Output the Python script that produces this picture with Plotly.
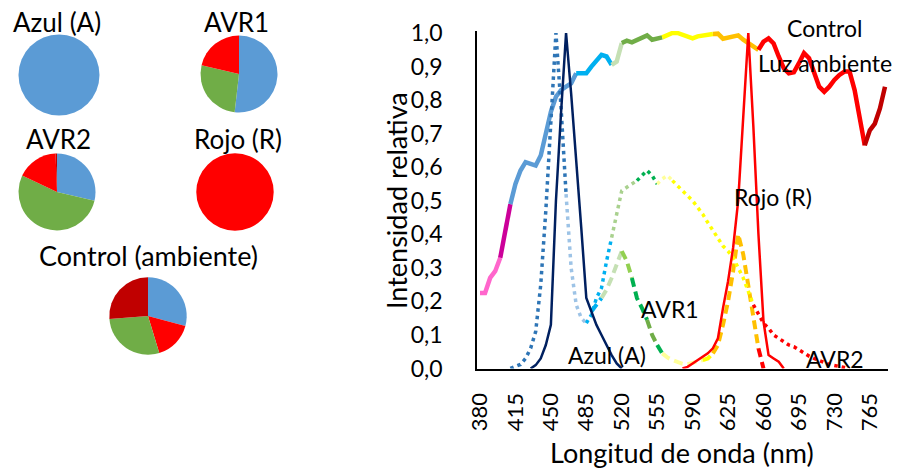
import plotly.graph_objects as go

# ---------------- data ----------------
control_wl = [380, 385, 390, 395, 400, 405, 410, 415, 420, 425, 430, 435, 440, 445, 450, 455, 460, 465, 470, 475,
              480, 485, 490, 495, 500, 505, 510, 515, 520, 525, 530, 535, 540, 545, 550, 555, 560, 565, 570, 575,
              580, 585, 590, 595, 600, 605, 610, 615, 620, 625, 630, 635, 640, 645, 650, 655, 660, 665, 670, 675,
              680, 685, 690, 695, 700, 705, 710, 715, 720, 725, 730, 735, 740, 745, 750, 755, 760, 765, 770, 775, 780]
control_val = [0.225, 0.225, 0.27, 0.29, 0.33, 0.41, 0.49, 0.55, 0.59, 0.615, 0.61, 0.605, 0.635, 0.70, 0.765, 0.81, 0.83, 0.84, 0.85, 0.88,
               0.88, 0.88, 0.90, 0.92, 0.935, 0.93, 0.905, 0.915, 0.97, 0.977, 0.972, 0.98, 0.985, 0.993, 0.98, 0.985, 0.987, 0.992, 1.0, 1.0,
               0.995, 0.99, 0.984, 0.99, 0.992, 0.995, 0.997, 0.998, 0.983, 0.987, 0.99, 0.993, 0.98, 0.97, 0.96, 0.95, 0.974, 0.984, 0.969, 0.93,
               0.895, 0.88, 0.883, 0.91, 0.94, 0.925, 0.88, 0.84, 0.825, 0.84, 0.86, 0.875, 0.885, 0.885, 0.83, 0.755, 0.665, 0.71, 0.73, 0.775, 0.84]

azul_wl = [430, 435, 440, 445, 450, 455, 460, 465, 470, 475, 480, 485, 490, 495, 500, 505, 510, 515, 520]
azul_val = [0.0, 0.01, 0.03, 0.07, 0.13, 0.50, 0.76, 1.0, 0.82, 0.63, 0.42, 0.21, 0.17, 0.13, 0.10, 0.07, 0.04, 0.015, 0.0]

rojo_wl = [580, 585, 590, 595, 600, 605, 610, 615, 620, 625, 630, 635, 640, 645, 650, 655, 660, 665, 670, 675, 680]
rojo_val = [0.0, 0.005, 0.015, 0.025, 0.035, 0.045, 0.06, 0.09, 0.18, 0.26, 0.36, 0.50, 0.75, 1.0, 0.72, 0.40, 0.14, 0.04, 0.03, 0.02, 0.0]

avr1_wl = [490, 495, 500, 505, 510, 515, 520, 525, 530, 535, 540, 545, 550, 555, 560, 565, 570, 575, 580, 585,
           590, 595, 600, 605, 610, 615, 620, 625, 630, 635, 640, 645, 650, 655, 660]
avr1_val = [0.17, 0.19, 0.21, 0.235, 0.27, 0.31, 0.35, 0.32, 0.27, 0.21, 0.18, 0.145, 0.10, 0.07, 0.045, 0.033, 0.025, 0.018, 0.014, 0.013,
            0.016, 0.02, 0.025, 0.03, 0.045, 0.07, 0.13, 0.20, 0.29, 0.40, 0.34, 0.25, 0.16, 0.06, 0.0]

avr2_wl = [410, 415, 420, 425, 430, 435, 440, 445, 450, 455, 460, 465, 470, 475, 480, 485, 490, 495, 500, 505,
           510, 515, 520, 525, 530, 535, 540, 545, 550, 555, 560, 565, 570, 575, 580, 585, 590, 595, 600, 605,
           610, 615, 620, 625, 630, 635, 640, 645, 650, 655, 660, 665, 670, 675, 680, 685, 690, 695, 700, 705,
           710, 715, 720, 725, 730, 735, 740, 745]
avr2_val = [0.0, 0.005, 0.012, 0.03, 0.06, 0.11, 0.25, 0.47, 0.72, 1.0, 0.78, 0.52, 0.30, 0.19, 0.15, 0.135, 0.16, 0.21, 0.24, 0.32,
            0.39, 0.46, 0.53, 0.54, 0.55, 0.56, 0.575, 0.59, 0.575, 0.55, 0.565, 0.575, 0.56, 0.545, 0.53, 0.515, 0.50, 0.48, 0.46, 0.435,
            0.41, 0.385, 0.365, 0.35, 0.33, 0.30, 0.27, 0.23, 0.19, 0.16, 0.135, 0.12, 0.10, 0.09, 0.08, 0.07, 0.065, 0.055, 0.045, 0.037,
            0.03, 0.023, 0.018, 0.012, 0.008, 0.006, 0.003, 0.0]

x_ticks = [380, 415, 450, 485, 520, 555, 590, 625, 660, 695, 730, 765]
y_ticks = [0.0, 0.1, 0.2, 0.3, 0.4, 0.5, 0.6, 0.7, 0.8, 0.9, 1.0]
y_ticklabels = ["0,0", "0,1", "0,2", "0,3", "0,4", "0,5", "0,6", "0,7", "0,8", "0,9", "1,0"]

pie_names = ["Azul (A)", "AVR1", "AVR2", "Rojo (R)", "Control (ambiente)"]
pie_labels = ["Azul", "Verde", "Rojo", "Rojo lejano"]
pie_values = {
    "Azul (A)": [100, 0, 0, 0],
    "AVR1": [51.8, 26.9, 21.3, 0],
    "AVR2": [28.7, 53.3, 17.4, 0.6],
    "Rojo (R)": [0, 0, 100, 0],
    "Control (ambiente)": [29.2, 28.5, 16.1, 26.2],
}

# ---------------- styles ----------------
W, H = 898, 469
FONT = "Lato"
pie_colors = ["#5B9BD5", "#70AD47", "#FF0000", "#C00000"]
pie_order = {
    "Azul (A)": [0, 1, 2, 3],
    "AVR1": [0, 1, 2, 3],
    "AVR2": [0, 1, 2, 3],
    "Rojo (R)": [0, 1, 2, 3],
    "Control (ambiente)": [0, 2, 1, 3],
}
pie_geom = {  # center x, center y, radius (px)
    "Azul (A)": (59, 75, 40.5),
    "AVR1": (239, 74, 38.5),
    "AVR2": (57, 192, 38.5),
    "Rojo (R)": (235, 192, 38.7),
    "Control (ambiente)": (148, 316, 38.7),
}
pie_title_pos = {
    "Azul (A)": (57, 22),
    "AVR1": (237, 22),
    "AVR2": (58, 139),
    "Rojo (R)": (238, 139),
    "Control (ambiente)": (148, 255),
}

control_segments = [(380, 400, "#FF66CC"), (400, 410, "#CC0099"), (410, 475, "#5B9BD5"),
                    (475, 510, "#00B0F0"), (510, 520, "#C5E0B4"), (520, 560, "#70AD47"),
                    (560, 610, "#FFFF00"), (610, 655, "#FFC000"), (655, 760, "#FF0000"), (760, 780, "#C00000")]
avr1_segments = [(490, 500, "#00B0F0"), (500, 520, "#C5E0B4"), (520, 530, "#92D050"), (530, 545, "#00B050"),
                 (545, 555, "#70AD47"), (555, 560, "#00B050"), (560, 600, "#FFFF99"), (600, 610, "#FFFF00"),
                 (610, 655, "#FFC000"), (655, 660, "#FF0000")]
avr2_segments = [(410, 465, "#2E75B6"), (465, 485, "#9DC3E6"), (485, 510, "#00B0F0"), (510, 535, "#A9D18E"),
                 (535, 555, "#00B050"), (555, 570, "#FFFF99"), (570, 650, "#FFFF00"), (650, 745, "#FF0000")]

x0_px, x1_px = 477, 888
y0_px, y1_px = 368.5, 31
px_per_nm = 1.0125
x_range = [380 - (480 - x0_px) / px_per_nm, 380 + (x1_px - 480) / px_per_nm]
y_range = [0, (y0_px - y1_px) / 335.5]

fig = go.Figure()


def seg_traces(wl, val, segments, width, dash):
    for a, b, col in segments:
        xs = [w for w in wl if a <= w <= b]
        ys = [v for w, v in zip(wl, val) if a <= w <= b]
        fig.add_trace(go.Scatter(x=xs, y=ys, mode="lines", showlegend=False, hoverinfo="skip",
                                 line=dict(color=col, width=width, dash=dash, shape="linear")))


seg_traces(control_wl, control_val, control_segments, 4.5, "solid")
seg_traces(avr1_wl, avr1_val, avr1_segments, 4, "9px,5px")
seg_traces(avr2_wl, avr2_val, avr2_segments, 3.5, "3.5px,4px")
fig.add_trace(go.Scatter(x=azul_wl, y=azul_val, mode="lines", showlegend=False, hoverinfo="skip",
                         line=dict(color="#002060", width=2.5)))
fig.add_trace(go.Scatter(x=rojo_wl, y=rojo_val, mode="lines", showlegend=False, hoverinfo="skip",
                         line=dict(color="#FF0000", width=2.5)))

annotations = []
for name in pie_names:
    cx, cy, r = pie_geom[name]
    order = pie_order[name]
    fig.add_trace(go.Pie(
        labels=[pie_labels[i] for i in order],
        values=[pie_values[name][i] for i in order],
        marker=dict(colors=[pie_colors[i] for i in order], line=dict(width=0)),
        textinfo="none", sort=False, direction="clockwise", rotation=0,
        showlegend=False, hoverinfo="label+percent",
        domain=dict(x=[(cx - r) / W, (cx + r) / W], y=[1 - (cy + r) / H, 1 - (cy - r) / H]),
    ))
    tx, ty = pie_title_pos[name]
    annotations.append(dict(text=name, x=tx / W, y=1 - ty / H, xref="paper", yref="paper",
                            xanchor="center", yanchor="middle", showarrow=False,
                            font=dict(family=FONT, size=27 if name == "Control (ambiente)" else 26, color="black")))

chart_labels = [("Control", 824, 28), ("Luz ambiente", 825, 63), ("Rojo (R)", 773, 197),
                ("AVR1", 670, 309), ("Azul (A)", 607, 355), ("AVR2", 835, 359)]
for t, x, y in chart_labels:
    annotations.append(dict(text=t, x=x / W, y=1 - y / H, xref="paper", yref="paper",
                            xanchor="center", yanchor="middle", showarrow=False,
                            font=dict(family=FONT, size=23, color="black")))

annotations.append(dict(text="Longitud de onda (nm)", x=682 / W, y=1 - 452 / H, xref="paper", yref="paper",
                        xanchor="center", yanchor="middle", showarrow=False,
                        font=dict(family=FONT, size=27, color="black")))
annotations.append(dict(text="Intensidad relativa", x=396 / W, y=1 - 201 / H, xref="paper", yref="paper",
                        xanchor="center", yanchor="middle", showarrow=False, textangle=-90,
                        font=dict(family=FONT, size=27, color="black")))

fig.update_layout(
    width=W, height=H, margin=dict(l=0, r=0, t=0, b=0),
    paper_bgcolor="white", plot_bgcolor="white",
    font=dict(family=FONT, color="black"),
    annotations=annotations,
    xaxis=dict(domain=[x0_px / W, x1_px / W], range=x_range, tickvals=x_ticks,
               ticktext=[str(v) for v in x_ticks], tickangle=-90, showgrid=False, zeroline=False,
               showline=True, linecolor="black", linewidth=1.5, ticks="outside", ticklen=14,
               tickcolor="rgba(0,0,0,0)", tickfont=dict(family=FONT, size=22, color="black"),
               automargin=False, fixedrange=True),
    yaxis=dict(domain=[1 - y0_px / H, 1 - y1_px / H], range=y_range, tickvals=y_ticks,
               ticktext=y_ticklabels, showgrid=False, zeroline=False,
               showline=True, linecolor="black", linewidth=1.5, ticks="outside", ticklen=28,
               tickcolor="rgba(0,0,0,0)", tickfont=dict(family=FONT, size=23, color="black"),
               automargin=False, fixedrange=True),
)

fig.write_html("out.html", config={"displayModeBar": False},
               post_script="document.body.style.margin='0px';document.body.style.overflow='hidden';")
